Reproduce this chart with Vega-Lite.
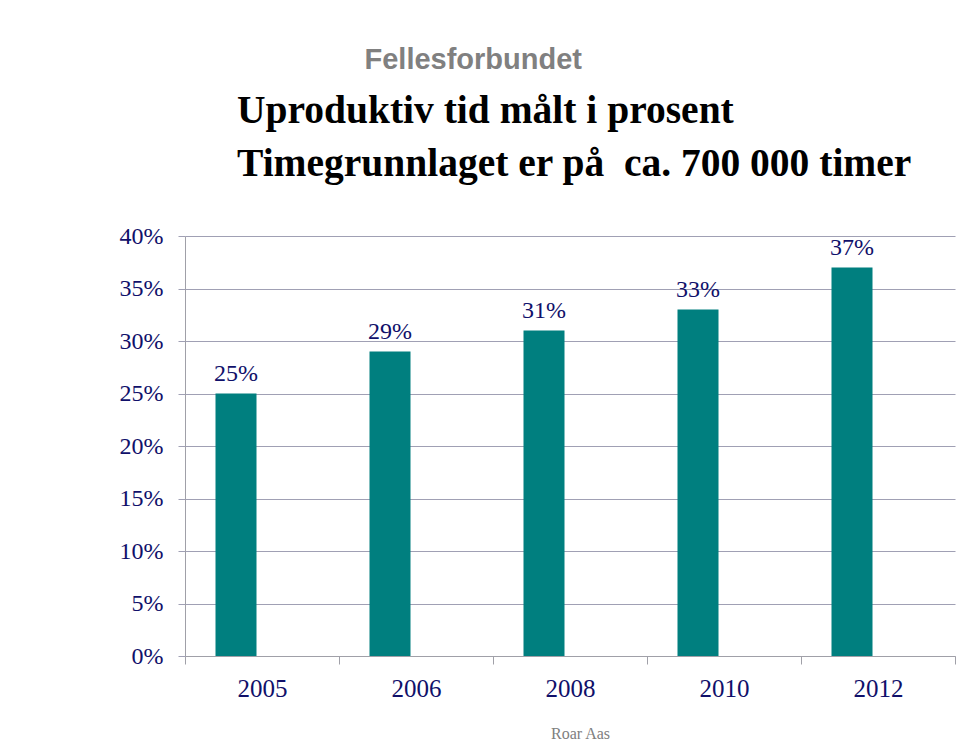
{
  "$schema": "https://vega.github.io/schema/vega-lite/v6.json",
  "autosize": "none",
  "width": 770,
  "height": 420,
  "padding": {"left": 185, "top": 236, "right": 5, "bottom": 84},
  "background": "white",
  "title": {
    "text": ["Uproduktiv tid målt i prosent", "Timegrunnlaget er på\u00a0 ca. 700 000 timer"],
    "anchor": "start",
    "frame": "group",
    "dx": 52,
    "font": "Liberation Serif",
    "fontSize": 39.5,
    "fontWeight": "bold",
    "color": "#000000",
    "lineHeight": 53,
    "offset": -139
  },
  "data": {
    "values": [
      {"year": "2005", "share": 0.25},
      {"year": "2006", "share": 0.29},
      {"year": "2008", "share": 0.31},
      {"year": "2010", "share": 0.33},
      {"year": "2012", "share": 0.37}
    ]
  },
  "config": {
    "view": {"stroke": null},
    "font": "Liberation Serif"
  },
  "encoding": {
    "x": {
      "field": "year",
      "type": "nominal",
      "sort": null,
      "scale": {"paddingInner": 0, "paddingOuter": 0},
      "axis": {
        "title": "Roar Aas",
        "titleFont": "Liberation Serif",
        "titleFontSize": 16,
        "titleFontWeight": "normal",
        "titleColor": "#808080",
        "titleX": 395,
        "titleY": 82,
        "titleBaseline": "alphabetic",
        "titleAlign": "center",
        "labelAngle": 0,
        "labelFont": "Liberation Serif",
        "labelFontSize": 25,
        "labelColor": "#10106a",
        "labelPadding": 12,
        "labelBaseline": "top",
        "tickBand": "extent",
        "tickSize": 8,
        "tickColor": "#a0a0a8",
        "domainColor": "#a0a0a8",
        "grid": false
      }
    },
    "y": {
      "field": "share",
      "type": "quantitative",
      "scale": {"domain": [0, 0.4]},
      "axis": {
        "values": [0, 0.05, 0.1, 0.15, 0.2, 0.25, 0.3, 0.35, 0.4],
        "format": ".0%",
        "title": "Fellesforbundet",
        "titleAngle": 0,
        "titleX": 179,
        "titleY": -168,
        "titleAlign": "left",
        "titleBaseline": "alphabetic",
        "titleFont": "Liberation Sans",
        "titleFontSize": 29,
        "titleFontWeight": "bold",
        "titleColor": "#808080",
        "labelFont": "Liberation Serif",
        "labelFontSize": 24,
        "labelColor": "#10106a",
        "labelPadding": 15,
        "tickSize": 7,
        "tickColor": "#a0a0b4",
        "domainColor": "#a0a0a8",
        "grid": true,
        "gridColor": "#a0a0b4",
        "gridWidth": 1.2
      }
    }
  },
  "layer": [
    {
      "mark": {"type": "bar", "color": "#007f7f", "width": 41, "xOffset": -26}
    },
    {
      "mark": {
        "type": "text",
        "xOffset": -26,
        "dy": -13,
        "baseline": "alphabetic",
        "font": "Liberation Serif",
        "fontSize": 24,
        "color": "#10106a"
      },
      "encoding": {"text": {"field": "share", "type": "quantitative", "format": ".0%"}}
    }
  ]
}
